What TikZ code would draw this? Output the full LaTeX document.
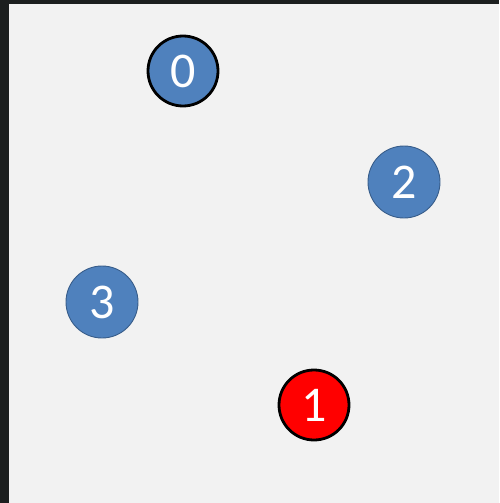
\documentclass[tikz,border=0pt]{standalone}
\usepackage{fontspec}
\setmainfont{Carlito}
\usepackage{xcolor}
\usepackage{tikz}
\definecolor{nodeblue}{HTML}{4F81BD}
\definecolor{nodeedge}{HTML}{385D8A}
\definecolor{panel}{HTML}{F2F2F2}
\definecolor{frame}{HTML}{1C1F1F}
\tikzset{vertex/.style={circle, fill=nodeblue, draw=nodeedge, line width=0.9pt,
  minimum size=72pt, inner sep=0pt, text=white, font=\fontsize{50}{50}\selectfont},
  marked/.style={vertex, draw=black, line width=2.8pt, minimum size=70pt}}

\begin{document}
\begin{tikzpicture}[x=1pt, y=-1pt]
\fill[frame] (0,0) rectangle (499,503);
\fill[panel] (9,4) rectangle (499,503);
\node[marked] (n0) at (183,71) {0};
\node[vertex] (n2) at (404,182) {2};
\node[vertex] (n3) at (102,302) {3};
\node[marked, fill=red] (n1) at (314,405) {1};
\end{tikzpicture}
\end{document}
